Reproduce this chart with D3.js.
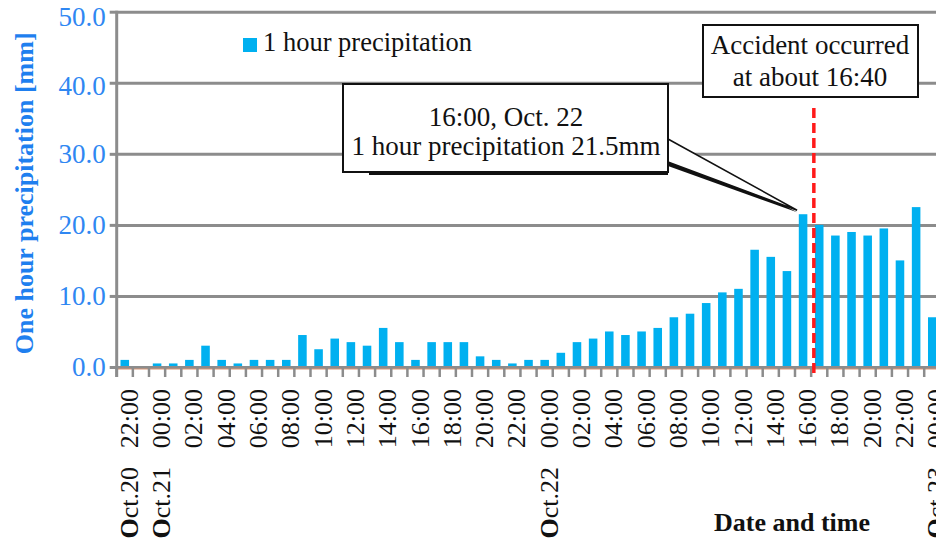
<!DOCTYPE html>
<html>
<head>
<meta charset="utf-8">
<script src="https://cdn.jsdelivr.net/npm/d3@7"></script>
<style>
  body { margin: 0; background: #fff; }
  svg { display: block; font-family: "Liberation Serif", "Times New Roman", serif; }
</style>
</head>
<body>
<svg id="chart" width="936" height="540"></svg>
<script>
// hourly categories, Oct 20 22:00 -> Oct 23 00:00
const hours = [
  "10/20 22:00", "10/20 23:00",
  "10/21 00:00", "10/21 01:00", "10/21 02:00", "10/21 03:00", "10/21 04:00", "10/21 05:00",
  "10/21 06:00", "10/21 07:00", "10/21 08:00", "10/21 09:00", "10/21 10:00", "10/21 11:00",
  "10/21 12:00", "10/21 13:00", "10/21 14:00", "10/21 15:00", "10/21 16:00", "10/21 17:00",
  "10/21 18:00", "10/21 19:00", "10/21 20:00", "10/21 21:00", "10/21 22:00", "10/21 23:00",
  "10/22 00:00", "10/22 01:00", "10/22 02:00", "10/22 03:00", "10/22 04:00", "10/22 05:00",
  "10/22 06:00", "10/22 07:00", "10/22 08:00", "10/22 09:00", "10/22 10:00", "10/22 11:00",
  "10/22 12:00", "10/22 13:00", "10/22 14:00", "10/22 15:00", "10/22 16:00", "10/22 17:00",
  "10/22 18:00", "10/22 19:00", "10/22 20:00", "10/22 21:00", "10/22 22:00", "10/22 23:00",
  "10/23 00:00"
];

// 1 hour precipitation [mm]
const precipitation = [
  1.0, 0.0,
  0.5, 0.5, 1.0, 3.0, 1.0, 0.5, 1.0, 1.0, 1.0, 4.5, 2.5, 4.0,
  3.5, 3.0, 5.5, 3.5, 1.0, 3.5, 3.5, 3.5, 1.5, 1.0, 0.5, 1.0,
  1.0, 2.0, 3.5, 4.0, 5.0, 4.5, 5.0, 5.5, 7.0, 7.5, 9.0, 10.5,
  11.0, 16.5, 15.5, 13.5, 21.5, 20.0, 18.5, 19.0, 18.5, 19.5, 15.0, 22.5,
  7.0
];

const yTicks = [0, 10, 20, 30, 40, 50];
const dateTicks = ["10/20 22:00", "10/21 00:00", "10/22 00:00", "10/23 00:00"];
const dateLabels = ["Oct.20", "Oct.21", "Oct.22", "Oct.23"];
const peakHour = "10/22 16:00";
const accidentMinutes = 40;

const width = 936;
const height = 540;
const plotLeft = 116.7;
const plotBase = 367;
const plotTop = 11.7;
const hourStep = 16.15;

const canvas = d3.select("#chart");

const x = d3.scaleBand()
  .domain(hours)
  .range([plotLeft, plotLeft + hours.length * hourStep])
  .paddingInner(0.47)
  .paddingOuter(0.235);

const y = d3.scaleLinear().domain([0, 50]).range([plotBase, plotTop]);

const blue = "#2f87f2";
const grey = "#8c8c8c";
const barColor = "#00b0f0";
const center = (d) => x(d) + x.bandwidth() / 2;

// gridlines
canvas.append("g")
  .attr("transform", `translate(${plotLeft},0)`)
  .call(d3.axisLeft(y).tickValues(yTicks).tickSize(-(width - plotLeft)).tickFormat(""))
  .call((g) => g.select(".domain").remove())
  .call((g) => g.selectAll("line").attr("stroke", grey).attr("stroke-width", 3));

// bars
canvas.append("g")
  .selectAll("rect")
  .data(hours)
  .join("rect")
  .attr("x", (d) => x(d))
  .attr("width", x.bandwidth())
  .attr("y", (d, i) => y(precipitation[i]))
  .attr("height", (d, i) => plotBase - y(precipitation[i]))
  .attr("fill", barColor);

// x axis line + ticks at category boundaries
canvas.append("line")
  .attr("x1", plotLeft).attr("x2", width)
  .attr("y1", plotBase + 0.5).attr("y2", plotBase + 0.5)
  .attr("stroke", grey).attr("stroke-width", 3);
canvas.append("line")
  .attr("x1", plotLeft).attr("x2", width)
  .attr("y1", plotBase + 2).attr("y2", plotBase + 2)
  .attr("stroke", "#d99575").attr("stroke-width", 1);

const boundaries = hours.map((d) => x(d) - (x.step() * x.paddingInner()) / 2);
canvas.append("g")
  .selectAll("line")
  .data(boundaries)
  .join("line")
  .attr("x1", (d) => d).attr("x2", (d) => d)
  .attr("y1", plotBase).attr("y2", plotBase + 10)
  .attr("stroke", grey).attr("stroke-width", 2.5);

// y axis
canvas.append("g")
  .attr("transform", `translate(${plotLeft},0)`)
  .call(d3.axisLeft(y).tickValues(yTicks).tickSize(7).tickPadding(4).tickFormat(d3.format(".1f")))
  .call((g) => g.select(".domain").attr("stroke", grey).attr("stroke-width", 3)
    .attr("d", `M0,${plotTop - 1}V${plotBase + 10}`))
  .call((g) => g.selectAll("line").attr("stroke", grey).attr("stroke-width", 3))
  .call((g) => g.selectAll("text")
    .attr("fill", blue)
    .attr("font-family", "Liberation Serif, Times New Roman, serif")
    .attr("font-size", 27)
    .attr("y", (d) => (d === 50 ? 5 : d === 40 ? 3 : 0)));

canvas.append("text")
  .attr("transform", `translate(33,${(plotTop + plotBase) / 2 + 4}) rotate(-90)`)
  .attr("text-anchor", "middle")
  .attr("font-size", 26)
  .attr("font-weight", "bold")
  .attr("fill", "#1f7fef")
  .text("One hour precipitation [mm]");

// time labels every 2 hours
canvas.append("g")
  .selectAll("text")
  .data(hours.filter((d, i) => i % 2 === 0))
  .join("text")
  .attr("transform", (d) => `translate(${center(d) + 4},389) rotate(-90)`)
  .attr("text-anchor", "end")
  .attr("dy", "0.35em")
  .attr("font-size", 26)
  .attr("fill", "#111")
  .text((d) => d.split(" ")[1]);

// date labels
const dates = canvas.append("g")
  .selectAll("text")
  .data(dateTicks)
  .join("text")
  .attr("transform", (d) => `translate(${center(d) + 4},467) rotate(-90)`)
  .attr("text-anchor", "end")
  .attr("dy", "0.35em")
  .attr("font-size", 26)
  .attr("fill", "#111");
dates.append("tspan").attr("font-weight", "bold").text("O");
dates.append("tspan").text((d, i) => dateLabels[i].slice(1));

canvas.append("text")
  .attr("x", 792).attr("y", 531)
  .attr("text-anchor", "middle")
  .attr("font-size", 26)
  .attr("font-weight", "bold")
  .attr("fill", "#111")
  .text("Date and time");

// legend
canvas.append("rect")
  .attr("x", 243).attr("y", 38).attr("width", 14).attr("height", 14)
  .attr("fill", barColor);
canvas.append("text")
  .attr("x", 263).attr("y", 51)
  .attr("font-size", 26.5)
  .attr("fill", "#111")
  .text("1 hour precipitation");

// accident line at 16:40
const accidentX = center(peakHour) + (x.step() * accidentMinutes) / 60;
canvas.append("line")
  .attr("x1", accidentX).attr("x2", accidentX)
  .attr("y1", 108).attr("y2", plotBase + 9)
  .attr("stroke", "#ff1a1a")
  .attr("stroke-width", 3.5)
  .attr("stroke-dasharray", "10,5");

// accident box
canvas.append("rect")
  .attr("x", 703).attr("y", 25).attr("width", 215).attr("height", 72)
  .attr("fill", "#fff").attr("stroke", "#111").attr("stroke-width", 2);
canvas.append("text")
  .attr("x", 810).attr("y", 54)
  .attr("text-anchor", "middle").attr("font-size", 27).attr("fill", "#111")
  .text("Accident occurred");
canvas.append("text")
  .attr("x", 810).attr("y", 86)
  .attr("text-anchor", "middle").attr("font-size", 27).attr("fill", "#111")
  .text("at about 16:40");

// callout for the 16:00 peak
const tipX = center(peakHour) - 6;
const tipY = y(precipitation[hours.indexOf(peakHour)]) - 4;
canvas.append("polygon")
  .attr("points", `668,143 ${tipX},${tipY + 2} 668,166`)
  .attr("fill", "#111");
canvas.append("polygon")
  .attr("points", `668,139 ${tipX},${tipY} 668,162`)
  .attr("fill", "#fff").attr("stroke", "#111").attr("stroke-width", 1.5);
canvas.append("line")
  .attr("x1", 369).attr("x2", 668)
  .attr("y1", 173.5).attr("y2", 173.5)
  .attr("stroke", "#111").attr("stroke-width", 3);
canvas.append("rect")
  .attr("x", 343).attr("y", 84).attr("width", 325).attr("height", 88)
  .attr("fill", "#fff").attr("stroke", "#111").attr("stroke-width", 2);
canvas.append("text")
  .attr("x", 506).attr("y", 126)
  .attr("text-anchor", "middle").attr("font-size", 27).attr("fill", "#111")
  .text("16:00, Oct. 22");
canvas.append("text")
  .attr("x", 506).attr("y", 155)
  .attr("text-anchor", "middle").attr("font-size", 27).attr("fill", "#111")
  .text("1 hour precipitation 21.5mm");
</script>
</body>
</html>
